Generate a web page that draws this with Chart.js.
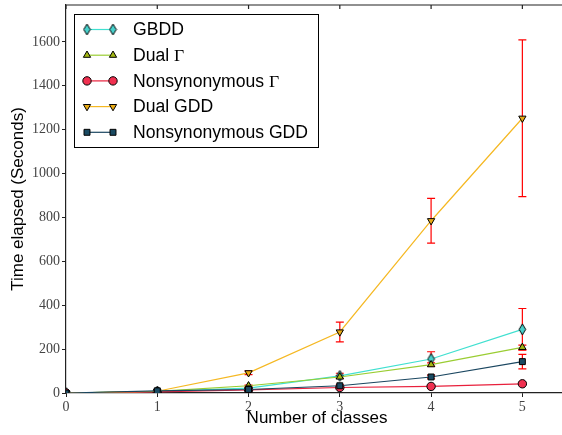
<!DOCTYPE html>
<html>
<head>
<meta charset="utf-8">
<style>
  html, body { margin: 0; padding: 0; background: #fff; overflow: hidden; }
  #wrap { width: 568px; height: 435px; }
</style>
</head>
<body>
<div id="wrap"><canvas id="myChart" width="568" height="435"></canvas></div>

<script src="https://cdn.jsdelivr.net/npm/chart.js"></script>
<script>
// number of classes on the x axis
var classes = [0, 1, 2, 3, 4, 5];
var xTicks = [0, 1, 2, 3, 4, 5];
var yTicks = [0, 200, 400, 600, 800, 1000, 1200, 1400, 1600];

var seriesNames = ['GBDD', 'Dual Γ', 'Nonsynonymous Γ', 'Dual GDD', 'Nonsynonymous GDD'];

// mean time (seconds) and error (half width) per series
var gbdd        = [0, 7, 22, 78, 155, 290];
var gbddErr     = [0, 1, 4, 12, 33, 95];
var dualGamma   = [0, 7, 33, 73, 129, 208];
var dualGammaErr = [0, 1, 3, 6, 8, 10];
var nonsynGamma = [0, 5, 14, 25, 30, 42];
var nonsynGammaErr = [0, 1, 2, 3, 3, 4];
var dualGdd     = [0, 8, 92, 278, 785, 1252];
var dualGddErr  = [0, 2, 8, 45, 102, 357];
var nonsynGdd   = [0, 10, 16, 33, 73, 143];
var nonsynGddErr = [0, 2, 3, 5, 8, 33];

// diamond marker (matplotlib 'd' style)
function thinDiamond(fill) {
    var c = document.createElement('canvas');
    c.width = 9; c.height = 13;
    var g = c.getContext('2d');
    g.beginPath();
    g.moveTo(4.5, 1); g.lineTo(7.8, 6.5); g.lineTo(4.5, 12); g.lineTo(1.2, 6.5);
    g.closePath();
    g.fillStyle = fill; g.fill();
    g.strokeStyle = '#000'; g.lineWidth = 1; g.stroke();
    return c;
}

var series = [
    { name: seriesNames[0], values: gbdd, err: gbddErr, line: '#40e0d0', fill: '#48d1cc', style: thinDiamond('#48d1cc'), rot: 0 },
    { name: seriesNames[1], values: dualGamma, err: dualGammaErr, line: '#9acd32', fill: '#a4b814', style: 'triangle', rot: 0 },
    { name: seriesNames[2], values: nonsynGamma, err: nonsynGammaErr, line: '#e8203c', fill: '#f03050', style: 'circle', rot: 0 },
    { name: seriesNames[3], values: dualGdd, err: dualGddErr, line: '#f5b822', fill: '#e8aa14', style: 'triangle', rot: 180 },
    { name: seriesNames[4], values: nonsynGdd, err: nonsynGddErr, line: '#1a4660', fill: '#1a4a62', style: 'rect', rot: 0 }
];

// red error bars, drawn under the lines
var errorBars = {
    id: 'errorBars',
    beforeDatasetsDraw: function(chart) {
        var ctx = chart.ctx, xs = chart.scales.x, ys = chart.scales.y;
        ctx.save();
        ctx.strokeStyle = '#ff0000';
        ctx.lineWidth = 1.2;
        series.forEach(function(s) {
            s.err.forEach(function(e, i) {
                if (!e) return;
                var px = xs.getPixelForValue(classes[i]);
                var top = ys.getPixelForValue(s.values[i] + e);
                var bot = ys.getPixelForValue(s.values[i] - e);
                ctx.beginPath();
                ctx.moveTo(px, top); ctx.lineTo(px, bot);
                ctx.moveTo(px - 4, top); ctx.lineTo(px + 4, top);
                ctx.moveTo(px - 4, bot); ctx.lineTo(px + 4, bot);
                ctx.stroke();
            });
        });
        ctx.restore();
    }
};

// top spine with inward ticks + boxed legend
var frameAndLegend = {
    id: 'frameAndLegend',
    afterDraw: function(chart) {
        var ctx = chart.ctx, a = chart.chartArea, xs = chart.scales.x;
        ctx.save();
        ctx.strokeStyle = '#222';
        ctx.lineWidth = 1.2;
        ctx.beginPath();
        ctx.moveTo(a.left, a.top); ctx.lineTo(a.right, a.top);
        xTicks.forEach(function(v) {
            var px = xs.getPixelForValue(v);
            ctx.moveTo(px, a.top); ctx.lineTo(px, a.top + 4);
        });
        ctx.stroke();

        // legend box
        var bx = 74.5, by = 14.5, bw = 244, bh = 133;
        ctx.fillStyle = '#fff';
        ctx.fillRect(bx, by, bw, bh);
        ctx.strokeStyle = '#000';
        ctx.lineWidth = 1;
        ctx.strokeRect(bx, by, bw, bh);

        series.forEach(function(s, i) {
            var y = 29.5 + i * 25.7;
            ctx.strokeStyle = s.line;
            ctx.lineWidth = 1.2;
            ctx.beginPath();
            ctx.moveTo(87, y); ctx.lineTo(113, y);
            ctx.stroke();
            [87, 113].forEach(function(px) {
                ctx.fillStyle = s.fill;
                ctx.strokeStyle = '#000';
                ctx.lineWidth = 1;
                Chart.helpers.drawPoint(ctx, { pointStyle: s.style, rotation: s.rot, radius: 4.2, borderWidth: 1 }, px, y);
            });
            // text, with Γ in a serif face
            ctx.fillStyle = '#000';
            ctx.textBaseline = 'middle';
            var parts = s.name.split('Γ');
            var tx = 133;
            ctx.font = '17.6px "Liberation Sans", Arial, sans-serif';
            ctx.fillText(parts[0], tx, y + 1);
            if (parts.length > 1) {
                tx += ctx.measureText(parts[0]).width;
                ctx.font = '17.6px "Liberation Serif", "DejaVu Serif", serif';
                ctx.fillText('Γ', tx, y + 1);
            }
        });
        ctx.restore();
    }
};

var datasets = series.map(function(s, i) {
    return {
        label: s.name,
        data: classes.map(function(c, j) { return { x: c, y: s.values[j] }; }),
        borderColor: s.line,
        borderWidth: 1.2,
        pointStyle: s.style,
        rotation: s.rot,
        pointRadius: 4.2,
        pointBackgroundColor: s.fill,
        pointBorderColor: '#000',
        pointBorderWidth: 1,
        tension: 0,
        fill: false,
        order: series.length - i   // later series drawn on top
    };
});

var tickFont = { family: '"Liberation Serif", "DejaVu Serif", serif', size: 14 };
var titleFont = { family: '"Liberation Sans", Arial, sans-serif', size: 17 };
var plainLabel = function(v) { return String(v); };

var ctx = document.getElementById('myChart').getContext('2d');
var chart = new Chart(ctx, {
    type: 'line',
    data: { datasets: datasets },
    options: {
        responsive: false,
        animation: false,
        layout: { autoPadding: false, padding: { top: 5, right: 0, left: 0, bottom: 0 } },
        plugins: {
            legend: { display: false },
            tooltip: { enabled: false }
        },
        scales: {
            x: {
                type: 'linear',
                min: 0,
                max: 5.5,
                afterBuildTicks: function(s) { s.ticks = xTicks.map(function(v) { return { value: v }; }); },
                afterFit: function(s) { s.height = 42; s.paddingLeft = 0; s.paddingRight = 0; },
                ticks: { font: tickFont, color: '#444', padding: 2, maxRotation: 0, callback: plainLabel },
                grid: { drawOnChartArea: false, tickLength: 4, color: '#222' },
                border: { color: '#222', width: 1.2 },
                title: { display: true, text: 'Number of classes', font: titleFont, color: '#000', padding: { top: 0, bottom: 6 } }
            },
            y: {
                min: 0,
                max: 1768,
                afterBuildTicks: function(s) { s.ticks = yTicks.map(function(v) { return { value: v }; }); },
                afterFit: function(s) { s.width = 66; s.paddingTop = 0; s.paddingBottom = 0; },
                ticks: { font: tickFont, color: '#444', padding: 2, callback: plainLabel },
                grid: { drawOnChartArea: false, tickLength: 4, color: '#222' },
                border: { color: '#222', width: 1.2 },
                title: { display: true, text: 'Time elapsed (Seconds)', font: titleFont, color: '#000', padding: { top: 8, bottom: 0 } }
            }
        }
    },
    plugins: [errorBars, frameAndLegend]
});
</script>
</body>
</html>
